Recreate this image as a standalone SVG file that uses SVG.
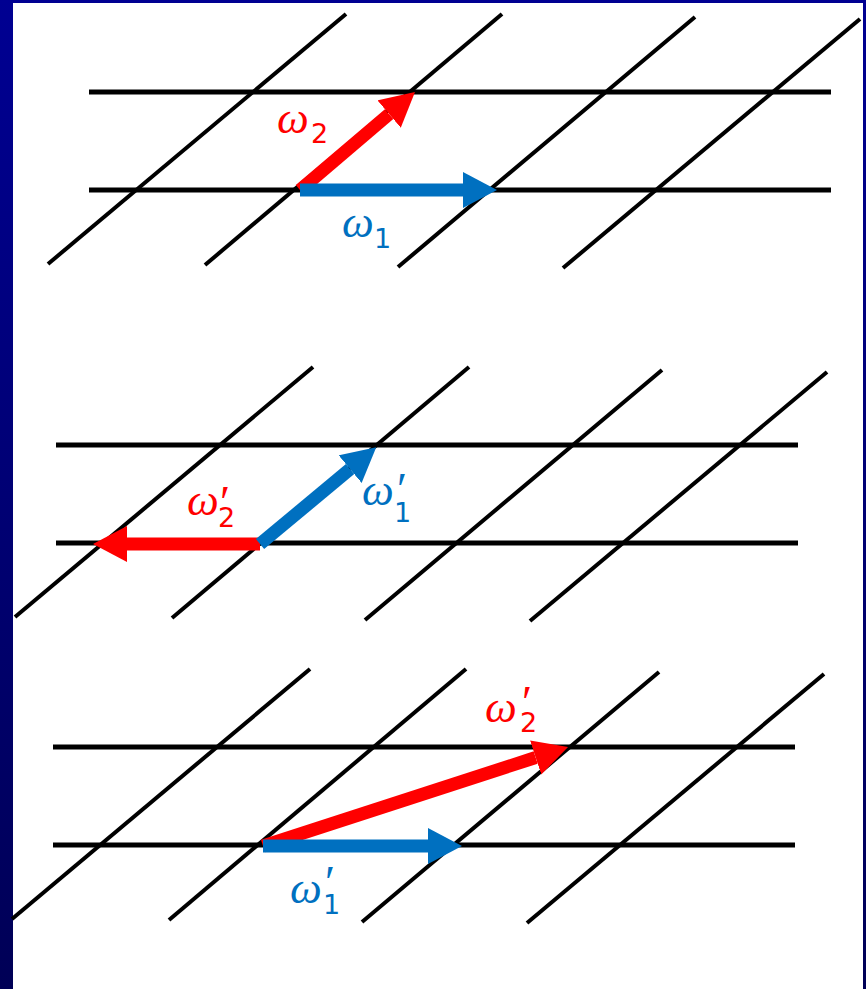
<svg xmlns="http://www.w3.org/2000/svg" xmlns:xlink="http://www.w3.org/1999/xlink" width="866" height="989" viewBox="0 0 866 989">
<style>
.h{stroke:#000;stroke-width:5;fill:none}
.d{stroke:#000;stroke-width:4;fill:none}
.red{stroke:#FF0000;stroke-width:13;fill:none}
.blue{stroke:#0070C0;stroke-width:13;fill:none}
.w{font-family:"Liberation Serif","DejaVu Serif",serif;font-style:italic;font-size:45px}
.s{font-family:"DejaVu Sans","Liberation Sans",sans-serif;font-style:normal;font-size:27px}
.p{font-family:"Liberation Serif","DejaVu Serif",serif;font-style:normal;font-size:46px}
.rt{fill:#FF0000}
.bt{fill:#0070C0}
</style>
<defs>
<linearGradient id="bg" x1="0" y1="0" x2="0" y2="1">
<stop offset="0" stop-color="#000092"/>
<stop offset="1" stop-color="#000056"/>
</linearGradient>
<marker id="ahRed" markerUnits="userSpaceOnUse" markerWidth="34" markerHeight="36" viewBox="0 0 34 36" refX="0" refY="18" orient="auto">
<path d="M0,0 L34,18 L0,36 Z" fill="#FF0000"/>
</marker>
<marker id="ahBlue" markerUnits="userSpaceOnUse" markerWidth="34" markerHeight="36" viewBox="0 0 34 36" refX="0" refY="18" orient="auto">
<path d="M0,0 L34,18 L0,36 Z" fill="#0070C0"/>
</marker>
<g id="lattice">
<line class="h" x1="89" y1="92" x2="831" y2="92"/>
<line class="h" x1="89" y1="190" x2="831" y2="190"/>
<line class="d" x1="48" y1="264" x2="346" y2="14"/>
<line class="d" x1="205" y1="265" x2="502" y2="14"/>
<line class="d" x1="398" y1="267" x2="695" y2="17"/>
<line class="d" x1="563" y1="268" x2="860" y2="19"/>
</g>
</defs>
<rect x="0" y="0" width="866" height="989" fill="url(#bg)"/>
<rect x="13" y="3" width="850" height="986" fill="#FFFFFF"/>

<g id="panel1">
<use xlink:href="#lattice" href="#lattice"/>
</g>
<g id="panel2">
<use xlink:href="#lattice" href="#lattice" transform="translate(-33,353)"/>
</g>
<g id="panel3">
<use xlink:href="#lattice" href="#lattice" transform="translate(-36,655)"/>
</g>

<g id="connectors">
<line class="red" x1="300" y1="190" x2="389.1" y2="114.1" marker-end="url(#ahRed)"/>
<line class="blue" x1="300" y1="190" x2="463" y2="190" marker-end="url(#ahBlue)"/>
<line class="red" x1="260" y1="544" x2="127" y2="544" marker-end="url(#ahRed)"/>
<line class="blue" x1="260" y1="544" x2="350.1" y2="469.1" marker-end="url(#ahBlue)"/>
<line class="red" x1="263" y1="846" x2="535.7" y2="757.5" marker-end="url(#ahRed)"/>
<line class="blue" x1="263" y1="846" x2="428" y2="846" marker-end="url(#ahBlue)"/>
</g>

<g id="label-w2">
<text class="w rt" x="277" y="133">ω<tspan class="s" x="311" y="143">2</tspan></text>
</g>
<g id="label-w1">
<text class="w bt" x="342" y="237">ω<tspan class="s" x="374" y="248">1</tspan></text>
</g>
<g id="label-w2p-a">
<text class="w rt" x="187" y="515">ω<tspan class="p" x="220" y="518">′</tspan><tspan class="s" x="218" y="527">2</tspan></text>
</g>
<g id="label-w1p-a">
<text class="w bt" x="362" y="505">ω<tspan class="p" x="397" y="505">′</tspan><tspan class="s" x="394" y="522">1</tspan></text>
</g>
<g id="label-w2p-b">
<text class="w rt" x="485" y="722">ω<tspan class="p" x="522" y="718">′</tspan><tspan class="s" x="520" y="732">2</tspan></text>
</g>
<g id="label-w1p-b">
<text class="w bt" x="290" y="903">ω<tspan class="p" x="325" y="898">′</tspan><tspan class="s" x="323" y="914">1</tspan></text>
</g>
</svg>
